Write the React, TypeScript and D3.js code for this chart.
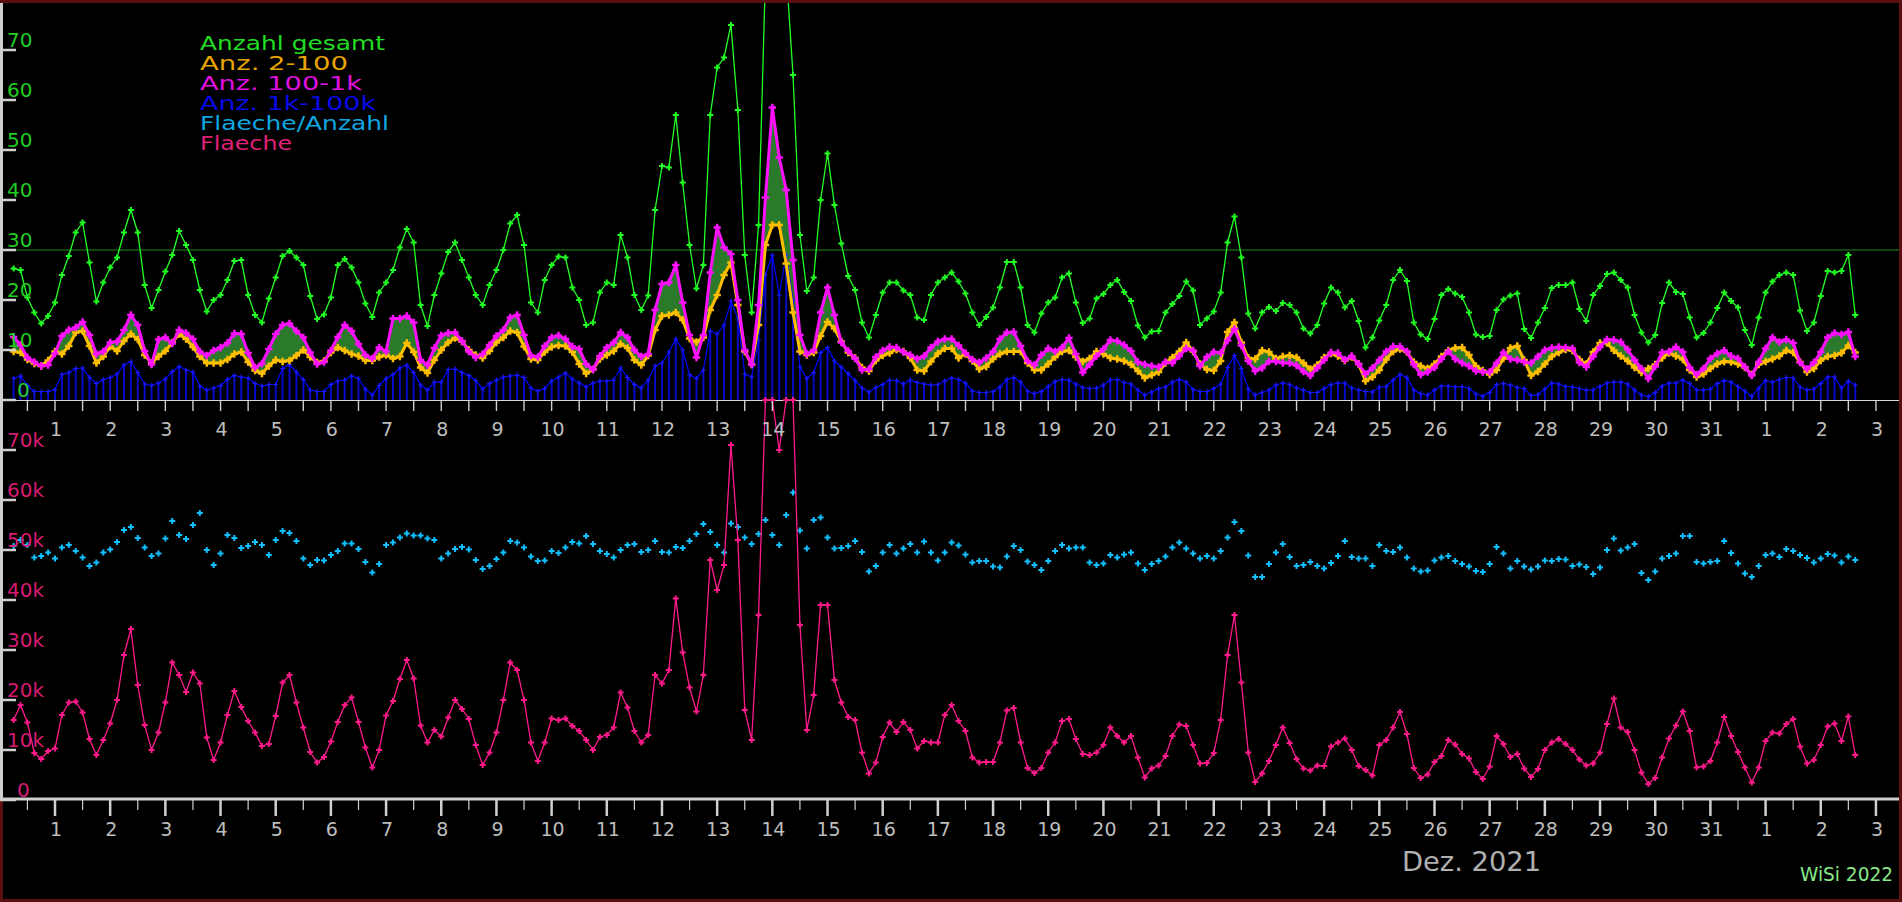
import React from "react";
import * as d3 from "d3";

// ---- data: 3-hourly samples starting 30 Nov 2021 06:00 (UTC) ----
const START = Date.UTC(2021, 10, 30, 6);
const STEP_HOURS = 3;

const anzahlGesamt = [
  26.3, 26, 20.5, 17.5, 15.3, 16.8,
  19.5, 25, 28.8, 33.5, 35.5, 27.5, 19.7, 23.5,
  26.5, 28.5, 33.5, 38, 33.5, 23, 18.4, 22,
  25.7, 29, 33.8, 31, 28, 22, 17.7, 20,
  21, 24, 27.8, 28, 21, 17, 15.5, 20.3,
  24.5, 28.8, 29.8, 28.5, 27, 20.8, 16.2, 17.1,
  20.5, 27, 28.2, 26.5, 23.5, 19.3, 16.6, 21.5,
  23.5, 26, 30.5, 34.2, 31.5, 19, 14.8, 21,
  25.3, 29.6, 31.5, 28, 24.5, 21, 19, 23,
  26, 30, 35.3, 37, 31, 19.5, 17.5, 24,
  27, 28.7, 28.5, 22.5, 20, 15, 15.5, 21.5,
  23.5, 23, 33, 28.5, 21, 18, 20.9, 38,
  46.8, 46.5, 57, 43.5, 31, 22.3, 27, 57,
  66.5, 68.5, 75, 58, 29, 17.5, 35, 85,
  95, 92, 86, 65, 33, 21.8, 24.5, 40,
  49.3, 39, 31.3, 24.8, 22, 15.5, 12.5, 17,
  21.5, 23.5, 23.5, 21.9, 21, 16.5, 16, 21,
  23.5, 24.5, 25.5, 23.7, 21.3, 17.5, 15, 16.6,
  18.5, 22.5, 27.6, 27.6, 22.5, 15, 13.5, 17.3,
  19.5, 20.5, 24.5, 25.3, 19.5, 15.4, 16.3, 20.3,
  21.2, 23, 24, 21.6, 19.8, 14.9, 12.5, 13.7,
  13.8, 17.5, 19.2, 20.8, 23.7, 21.9, 15, 16.3,
  17.7, 21.5, 31.5, 36.7, 28.5, 17.3, 14.3, 17.5,
  18.6, 17.8, 19.4, 19, 17.5, 14.3, 13.3, 15,
  19.3, 22.5, 21.5, 18.5, 19.8, 15.8, 10.5, 12.5,
  15.9, 19, 24, 26, 23.8, 15.5, 13.1, 12.2,
  16.2, 21, 22.2, 21.3, 20.6, 17.5, 13.1, 12.6,
  12.8, 18, 20.1, 20.9, 21.3, 14.2, 12.4, 15.5,
  18.4, 22.4, 23, 23, 23.5, 18.2, 15.8, 21,
  22.8, 25.2, 25.5, 24, 22.5, 17, 13.5, 11.5,
  13, 19.4, 23.5, 21.6, 21.2, 16.5, 12.5, 13.4,
  15.5, 18.4, 21.5, 19.8, 18.5, 14, 11, 16.5,
  21.5, 23.7, 25, 25.5, 25, 17.9, 13.8, 15.5,
  20.8, 25.8, 25.5, 25.8, 29, 17,
];

const anz2bis100 = [
  9.7, 9.5, 8.1, 7.3, 6.8, 7.9,
  9.7, 9.2, 10.8, 13.5, 13.8, 10.8, 7.4, 8.7,
  10.7, 9.8, 11.8, 13.2, 12.1, 9, 7.4, 8.7,
  9.8, 11.5, 13.2, 12.2, 10.6, 8.7, 7.4, 7.4,
  7.4, 8.1, 9.2, 9.6, 7.6, 5.9, 5.3, 6.8,
  8, 7.7, 7.9, 8.9, 10, 8.6, 7.5, 7.8,
  9.5, 10.5, 9.9, 9.2, 8.8, 7.9, 7.9, 8.6,
  9, 8.3, 8.7, 11.4, 9.6, 6.5, 5.4, 8,
  10, 11.5, 12.4, 11.7, 10, 9, 8.4, 9.8,
  11.5, 12.5, 13.8, 13.5, 10.7, 8.2, 8, 9.6,
  10.6, 10.9, 10.8, 9.6, 7.2, 5.3, 6.1, 8.2,
  9, 9.8, 11.2, 10.4, 8, 7, 8.9, 14,
  16.8, 17, 17.5, 16, 12.3, 11.6, 12.5, 18,
  21, 25, 27.5, 19, 9.7, 7.1, 15, 31,
  35, 35, 27.3, 17.5, 9.7, 9, 9.5, 12.8,
  15.6, 14.3, 11.7, 9.5, 8.4, 6.5, 5.8, 7.9,
  8.9, 9.4, 10.1, 9.7, 8.4, 6, 5.8, 7.7,
  9.3, 10.3, 10.3, 8.4, 9.2, 7.8, 6.2, 6.7,
  8.2, 9.2, 9.7, 9.7, 9.7, 7.4, 6, 6,
  7.2, 8.6, 9.7, 9.9, 8.6, 7.7, 8.3, 9.7,
  9.2, 8.4, 8.2, 7.8, 7.1, 5.8, 4.4, 5,
  5.6, 7.4, 8.5, 9.7, 11.5, 9.7, 7.2, 6.1,
  5.9, 7.8, 13.6, 15.5, 11.5, 8.4, 8.2, 9.9,
  9.6, 8.3, 8.7, 8.9, 8.5, 7.4, 6.2, 7,
  8.5, 9.3, 8.8, 7.9, 8.6, 7.2, 3.8, 4.6,
  6, 8.1, 9.7, 10.2, 9.6, 7.6, 6.8, 6.3,
  7.2, 8.7, 9.9, 10.4, 10.5, 9, 6.8, 5.9,
  5.1, 6, 8.3, 10.4, 10.8, 8, 4.9, 5.7,
  7.2, 8.7, 9.5, 10.1, 9.9, 8.1, 7.2, 9.6,
  11.4, 11.4, 9.9, 8.8, 7.8, 6.5, 5.5, 6.3,
  7.1, 8.4, 9.4, 8.8, 8.1, 6, 4.6, 5.2,
  6.3, 7.2, 7.7, 7.6, 7.2, 6.5, 5.1, 7.1,
  7.7, 8.2, 8.8, 9.9, 9.5, 7.6, 5.6, 6.3,
  7.9, 8.7, 8.9, 9.4, 10.9, 9.5,
];

const anz100bis1k = [
  12.6, 11, 8.5, 7.6, 6.8, 7,
  9.3, 12.8, 14, 14.5, 15.6, 13, 9.2, 9.7,
  11.5, 11.7, 14, 17, 15, 9.8, 7.1, 12.1,
  12.5, 11.3, 14, 13.4, 12.2, 9.7, 8.9, 9.9,
  10.5, 11.4, 13.3, 13.2, 9.4, 6.5, 7.3, 10.2,
  13.2, 15, 15.3, 13.8, 12.5, 9.5, 7.2, 7.6,
  9.9, 12.6, 15, 13.8, 11.2, 9, 8.3, 10.5,
  9.7, 16.3, 16.3, 16.8, 15.5, 8, 7, 10.4,
  12.9, 13.4, 13.5, 11.8, 9.7, 8.5, 9.2, 11,
  12.8, 14, 16.5, 17, 13, 8.9, 8.6, 10.8,
  12.5, 12.9, 12.2, 10.7, 10.2, 7.2, 6.1, 8.8,
  10.5, 11.5, 13.5, 12.5, 10, 8.7, 9.2, 18,
  23.2, 23.5, 27, 19.5, 13, 8.5, 13, 25.5,
  34.5, 30.5, 29.2, 20, 10, 7.1, 19, 40.5,
  58.5, 48.5, 42, 28, 13, 9.2, 10, 17.5,
  22.5, 17, 11.5, 9.8, 8.3, 6, 6.2, 8.6,
  9.9, 10.6, 10.5, 9.6, 9, 8.2, 8.8, 10.5,
  11.7, 12.2, 12.2, 10.9, 9.4, 8.1, 7.5, 8.4,
  9.7, 12.2, 13.5, 13.6, 10.8, 7.8, 7, 9,
  10.3, 9.7, 10.5, 12.4, 9.2, 5.5, 7.1, 8.8,
  10.2, 12, 11.8, 11, 9.8, 7.6, 7.1, 6.8,
  6.6, 7.6, 7.4, 8.8, 10.3, 9.9, 6.8, 8.6,
  9.6, 9.4, 11.9, 14.2, 10.9, 7.8, 5.8, 6.4,
  7.7, 7.7, 7.4, 7.4, 6.9, 5.7, 4.9, 6.4,
  8, 9.5, 9.4, 8, 8.8, 7.2, 5.2, 6.4,
  8, 9.7, 10.7, 10.7, 9.7, 7.1, 5.1, 5.6,
  6.5, 8.2, 9.7, 8.2, 7.4, 6.8, 5.8, 5.6,
  5.6, 7.4, 9.5, 8.2, 8, 7.6, 7.4, 8.7,
  10, 10.4, 10.6, 10.5, 10.3, 7.5, 6.6, 8.7,
  10.6, 12.1, 12, 11.6, 10.1, 8, 6.3, 4.3,
  6.7, 9.5, 9.7, 10.6, 9.6, 6.5, 5.1, 6.3,
  8.3, 9.3, 9.9, 8.8, 8.3, 6.6, 4.9, 7.6,
  10.3, 12.5, 11.6, 12.1, 11.4, 7.5, 6.2, 7.5,
  9.6, 12.5, 13.4, 13.1, 13.6, 8.7,
];

const anz1kbis100k = [
  4.3, 4.8, 2.9, 1.7, 1.7, 1.7,
  2.1, 5.1, 5.5, 6.3, 6.4, 4.5, 3.3, 4.1,
  4.5, 5.2, 7, 7.7, 5.5, 3.2, 2.9, 3.4,
  4.2, 5.7, 6.7, 6, 5.6, 2.8, 2, 2.4,
  2.9, 4.1, 4.9, 4.6, 4.4, 3.3, 2.8, 3.1,
  3.1, 6.3, 7.1, 5.6, 4.1, 2, 1.7, 1.7,
  3.1, 3.8, 4, 4.8, 4.3, 2.2, 1, 2.9,
  4.3, 5.1, 6.4, 7, 5.5, 3, 2, 3.6,
  3.6, 6.1, 6.2, 5.5, 4.9, 3.9, 2.2, 3.3,
  4, 4.6, 4.8, 5, 4.5, 2.4, 1.8, 2.3,
  3.8, 4.6, 5.4, 4.2, 3.4, 2.6, 3.4, 3.8,
  3.8, 4, 6.4, 4.5, 3.1, 2.4, 4, 6.8,
  7.4, 9.6, 12.2, 10, 5.1, 4.3, 6, 13.8,
  13.2, 15, 19.8, 16.3, 5.2, 4.6, 12, 25,
  29, 21, 29, 20, 6.6, 4.3, 5.5, 9.5,
  10.5, 7.8, 6.6, 5.3, 3.9, 2.4, 1.6, 2.5,
  3.1, 4, 3.9, 3.2, 4, 3.5, 3.2, 3,
  3.1, 3.8, 4.4, 4.1, 3.4, 1.8, 1.5, 1.5,
  1.7, 2.6, 4.1, 4.5, 3.6, 1.8, 1.3, 1.7,
  2.7, 3.7, 4.1, 4, 3.2, 2.5, 2.3, 2.4,
  3, 4, 4.1, 3.5, 3.2, 2, 1, 1.6,
  2.3, 2.6, 3.6, 4.1, 3.6, 2.1, 1.7, 1.7,
  2.3, 3.2, 6.5, 8.9, 6.3, 2.2, 1, 1.5,
  2, 3, 3.4, 3.1, 2.4, 2, 1.5, 1.5,
  2.3, 3.1, 3.4, 3.4, 2.4, 2, 1.7, 1.6,
  2.6, 2.7, 4, 5.1, 4.5, 2, 1.3, 1,
  2, 2.8, 2.8, 2.6, 2.7, 2.3, 1.2, 0.8,
  1.5, 3.1, 3.3, 3, 2.5, 2.3, 0.9, 1.1,
  2.2, 3.4, 3.2, 2.7, 2.6, 2.3, 2, 2,
  2.7, 3.4, 3.6, 3.6, 3.2, 2, 1, 0.7,
  1.5, 2.8, 3.4, 3.4, 4, 3.3, 2, 2,
  2.2, 3.3, 3.9, 3.6, 2.7, 1.8, 0.7, 2.4,
  3.9, 3.6, 4.1, 4.5, 4.4, 2.6, 2, 2.2,
  3.3, 4.6, 4.6, 2.4, 3.8, 3,
];

// thousands
const flaecheProAnzahl = [
  50.8, 52, 51, 48.5, 48.8, 49.5,
  48.3, 50.5, 51, 49.8, 48.5, 46.8, 47.5, 49.5,
  50.1, 51.6, 54, 54.6, 52.4, 50.5, 48.8, 49.3,
  52.3, 55.8, 53, 52.2, 55, 57.4, 50, 47,
  49.3, 53, 52.4, 50.4, 50.8, 51.6, 51, 49,
  52, 53.8, 53.4, 51.8, 48.3, 47, 48, 47.9,
  49, 49.8, 51.3, 51.3, 50.2, 47.6, 45.5, 47.2,
  51, 51.5, 52.5, 53.3, 52.9, 52.9, 52.3, 52,
  48.3, 49.3, 50.2, 50.6, 50.1, 48, 46.2, 46.8,
  48.2, 49.5, 51.8, 51.5, 50.5, 48.7, 47.8, 47.9,
  49.8, 49.4, 50.5, 51.6, 51.3, 52.8, 51.2, 49.8,
  49.2, 48.5, 50, 51, 51.2, 49.6, 50, 51.8,
  49.6, 49.5, 50.6, 50.4, 51.8, 53.2, 55.2, 53.6,
  51, 49.5, 55.3, 54.6, 52.5, 51.2, 53.2, 56,
  53, 51, 57, 61.5, 53.9, 50.3, 56, 56.5,
  52.5, 50.3, 50.4, 50.8, 51.8, 49.6, 45.7, 46.8,
  49.5, 51, 49.3, 50.3, 51.2, 49.5, 51.7, 49.5,
  47.9, 49.5, 51.5, 50.9, 49.1, 47.5, 47.8, 47.8,
  46.7, 46.5, 48.7, 50.8, 50, 47.7, 47, 46,
  47.8, 49.8, 51, 50.3, 50.5, 50.5, 47.5, 47,
  47.3, 49, 48.5, 49.1, 49.5, 47.3, 46, 47.2,
  47.8, 48.7, 50.5, 51.5, 50.3, 49.3, 48.3, 48.8,
  48.3, 49.8, 52.5, 55.6, 53.8, 48.9, 44.6, 44.6,
  47.2, 49.5, 51.2, 48.6, 46.8, 47, 47.6, 46.8,
  46.3, 47.4, 48.8, 51.8, 48.6, 48.3, 48.3, 46.8,
  51, 49.8, 49.6, 50.5, 48.5, 46.3, 45.7, 45.9,
  47.9, 48.5, 48.8, 47.8, 47.2, 46.7, 45.8, 45.6,
  47.2, 50.6, 49.3, 46.3, 47.8, 46.7, 46.1, 46.7,
  47.9, 47.8, 48.2, 48.1, 46.8, 47.1, 46.6, 45.2,
  46.5, 50, 52.3, 49.9, 50.5, 51.2, 45.4, 44,
  45.7, 48.3, 48.8, 49.3, 52.8, 52.8, 47.6, 47.3,
  47.6, 47.8, 51.8, 49.4, 47.3, 45.3, 44.6, 46.8,
  49, 49.3, 48.6, 50.2, 49.8, 49, 48.4, 47.5,
  48.3, 49.2, 48.9, 47.5, 48.7, 48,
];

// thousands
const flaeche = [
  16, 19, 15.5, 9.4, 8.2, 9.8,
  10.3, 17, 19.5, 19.7, 17.5, 12.2, 9, 12,
  15.3, 20, 29, 34.2, 23, 15, 10, 13.5,
  19.5, 27.5, 25, 21.6, 25.5, 23.3, 12.5, 8,
  11.5, 17, 21.8, 18.6, 15.8, 13.5, 10.8, 11.2,
  16.8, 23.5, 25, 19.5, 14.5, 9.6, 7.5, 8.6,
  11.7, 15.6, 19, 20.5, 15.6, 10.5, 6.5, 10,
  16.9, 19.8, 24.2, 28, 24.3, 14.9, 11.5, 14,
  12.7, 16.5, 20, 18.2, 16.2, 11, 7, 9.5,
  13.5, 20, 27.5, 26, 20, 11.5, 7.8, 11.5,
  16.3, 16, 16.3, 14.8, 13.8, 12, 10, 12.6,
  13, 14.5, 21.5, 18.5, 13.8, 11.5, 13, 25,
  23.3, 26, 40.3, 29.5, 22.5, 17.7, 25, 48,
  42, 47, 71, 52, 18, 12, 37, 85,
  95, 70, 90, 82, 35, 14, 21, 39,
  39, 24, 19.5, 16.6, 16, 9.5, 5.3, 7.5,
  12.6, 15.5, 13.6, 15.6, 14, 10.3, 11.8, 11.5,
  11.5, 17, 19, 15.8, 13.8, 8.5, 7.5, 7.6,
  7.6, 11.5, 17.9, 18.4, 11.5, 6.4, 5.4, 6.4,
  9.5, 11.5, 15.8, 16.2, 12.2, 9.2, 9, 9.5,
  11, 14.5, 12.8, 11.5, 12.8, 8.5, 4.5, 6.3,
  6.9, 8.8, 12.8, 15.1, 14.8, 11, 7.3, 7.4,
  9.4, 16, 29, 37, 23.5, 9.5, 3.6, 5.3,
  7.8, 11, 14.5, 11.4, 8.2, 6.3, 5.9, 6.9,
  6.8, 10.7, 11.5, 12.3, 10, 6.8, 6, 4.9,
  11, 12, 14.5, 17.6, 13.2, 6.4, 4.4, 5.1,
  7.6, 8.8, 12, 11.1, 9.2, 8.3, 5.6, 4.2,
  6.7, 12.8, 11.2, 8.6, 9.2, 6.3, 4.6, 6.2,
  10, 11.5, 12.2, 11.2, 10, 8.1, 6.9, 7.3,
  9.5, 15.2, 20.3, 14.5, 13.6, 10, 5.5, 3.2,
  4.4, 8.5, 12.3, 14.9, 17.7, 13.8, 6.5, 6.7,
  7.8, 11.5, 16.6, 12.8, 9.6, 6.5, 3.5, 6.5,
  11.8, 13.5, 13.3, 15.2, 16.2, 10.7, 7.3, 8,
  11, 14.7, 15.3, 11.8, 16.7, 9,
];

const yTopTicks = [0, 10, 20, 30, 40, 50, 60, 70];
const yTopLabels = ["0", "10", "20", "30", "40", "50", "60", "70"];
const yBotTicks = [0, 10, 20, 30, 40, 50, 60, 70];
const yBotLabels = ["0", "10k", "20k", "30k", "40k", "50k", "60k", "70k"];
const thresholdValue = 30;

const legendLabels = ["Anzahl gesamt", "Anz. 2-100", "Anz. 100-1k", "Anz. 1k-100k", "Flaeche/Anzahl", "Flaeche"];
const legendColors = ["#22dd22", "#e8a400", "#e010e0", "#0a0ae8", "#10a8e0", "#e0207a"];
const legendWidths = [185, 148, 162, 176, 189, 92];

const monthLabel = "Dez. 2021";
const creditLabel = "WiSi 2022";

// ---- layout ----
const W = 1902;
const H = 902;
const PX_PER_DAY = 55.18;
const FONT = "'DejaVu Sans', 'Liberation Sans', sans-serif";

const x = d3
  .scaleUtc()
  .domain([new Date(Date.UTC(2021, 10, 30)), new Date(Date.UTC(2022, 0, 4))])
  .range([-0.18, -0.18 + 35 * PX_PER_DAY]);
const yTop = d3.scaleLinear().domain([0, 80]).range([400, 0]);
const yBot = d3.scaleLinear().domain([0, 80]).range([800, 400]).clamp(true);

const times = anzahlGesamt.map((_, i) => new Date(START + i * STEP_HOURS * 3600e3));

const dayTicks = d3.utcDay.range(new Date(Date.UTC(2021, 11, 1)), new Date(Date.UTC(2022, 0, 4)));
const halfDayTicks = d3.utcHour
  .every(12)!
  .range(new Date(Date.UTC(2021, 10, 30, 12)), new Date(Date.UTC(2022, 0, 3, 1)));
const minorTicks = halfDayTicks.filter((d) => d.getUTCHours() === 12);
const dayFmt = d3.utcFormat("%-d");

function plusPath(vals: number[], y: (v: number) => number, r: number) {
  return vals
    .map((v, i) => {
      const px = x(times[i]);
      const py = y(v);
      return `M${px - r},${py}H${px + r}M${px},${py - r}V${py + r}`;
    })
    .join("");
}

const crossSym = d3.symbol(d3.symbolCross, 30)()!;
const crossSmall = d3.symbol(d3.symbolCross, 20)()!;

export default function App() {
  const lineTop = d3
    .line<number>()
    .x((_, i) => x(times[i]))
    .y((d) => yTop(d));
  const greenLine = lineTop(anzahlGesamt)!;
  const blueLine = lineTop(anz1kbis100k)!;
  const orangeLine = lineTop(anz2bis100)!;
  const magentaLine = lineTop(anz100bis1k)!;
  const pinkLine = d3
    .line<number>()
    .x((_, i) => x(times[i]))
    .y((d) => yBot(d))(flaeche)!;
  const band = d3
    .area<number>()
    .x((_, i) => x(times[i]))
    .y0((_, i) => yTop(anz2bis100[i]))
    .y1((d) => yTop(d))(anz100bis1k)!;

  return (
    <svg
      width={W}
      height={H}
      style={{ position: "absolute", left: 0, top: 0, display: "block" }}
      fontFamily={FONT}
    >
      <defs>
        <clipPath id="topClip">
          <rect x={0} y={0} width={1899} height={401} />
        </clipPath>
      </defs>
      <rect x={0} y={0} width={W} height={H} fill="#000" />

      {/* threshold line */}
      <line x1={0} x2={1899} y1={yTop(thresholdValue)} y2={yTop(thresholdValue)} stroke="#1d8f1d" strokeWidth={1} />

      {/* top panel axis line */}
      <line x1={0} x2={1899} y1={400.5} y2={400.5} stroke="#d8d8d8" strokeWidth={1} />

      <g clipPath="url(#topClip)">
        {/* band between 2-100 and 100-1k */}
        <path d={band} fill="#2b7a2b" />
        {/* blue stems */}
        {anz1kbis100k.map((v, i) => (
          <line
            key={"bs" + i}
            x1={x(times[i])}
            x2={x(times[i])}
            y1={yTop(v)}
            y2={400}
            stroke="#0808c8"
            strokeWidth={2}
          />
        ))}
        <path d={blueLine} fill="none" stroke="#0000ff" strokeWidth={1.2} />
        <path d={plusPath(anz1kbis100k, yTop, 2.5)} stroke="#1a1aff" strokeWidth={1.2} fill="none" />
        {/* orange and magenta bands of markers */}
        <path d={orangeLine} fill="none" stroke="#ffbf00" strokeWidth={3} strokeLinejoin="round" />
        {anz2bis100.map((v, i) => (
          <path key={"o" + i} d={crossSym} transform={`translate(${x(times[i])},${yTop(v)})`} fill="#ffbf00" />
        ))}
        <path d={magentaLine} fill="none" stroke="#ff10ff" strokeWidth={3} strokeLinejoin="round" />
        {anz100bis1k.map((v, i) => (
          <path key={"m" + i} d={crossSym} transform={`translate(${x(times[i])},${yTop(v)})`} fill="#ff10ff" />
        ))}
        {/* total */}
        <path d={greenLine} fill="none" stroke="#22ff22" strokeWidth={1.3} />
        <path d={plusPath(anzahlGesamt, yTop, 3)} stroke="#22ff22" strokeWidth={2} fill="none" />
      </g>

      {/* bottom panel */}
      {flaecheProAnzahl.map((v, i) => (
        <path key={"c" + i} d={crossSmall} transform={`translate(${x(times[i])},${yBot(v)})`} fill="#10c0ff" />
      ))}
      <path d={pinkLine} fill="none" stroke="#ff1a8c" strokeWidth={1.3} />
      <path d={plusPath(flaeche, yBot, 3)} stroke="#ff1a8c" strokeWidth={2} fill="none" />

      {/* top x ticks */}
      {halfDayTicks.map((d, i) => (
        <line key={"tt" + i} x1={x(d)} x2={x(d)} y1={401} y2={411} stroke="#d0d0d0" strokeWidth={1.4} />
      ))}
      {dayTicks.map((d, i) => (
        <text key={"tl" + i} x={x(d) + 1} y={436} fontSize={19} fill="#bdbdbd" textAnchor="middle">
          {dayFmt(d)}
        </text>
      ))}

      {/* bottom x axis */}
      <line x1={0} x2={1900} y1={799} y2={799} stroke="#d0d0d0" strokeWidth={3} />
      {dayTicks.map((d, i) => (
        <line key={"bm" + i} x1={x(d)} x2={x(d)} y1={800} y2={816} stroke="#d0d0d0" strokeWidth={2.5} />
      ))}
      {minorTicks.map((d, i) => (
        <line key={"bn" + i} x1={x(d)} x2={x(d)} y1={800} y2={810} stroke="#d0d0d0" strokeWidth={1.2} />
      ))}
      {dayTicks.map((d, i) => (
        <text key={"bl" + i} x={x(d) + 1} y={836} fontSize={19} fill="#bdbdbd" textAnchor="middle">
          {dayFmt(d)}
        </text>
      ))}

      {/* frame */}
      <rect x={1.5} y={1.5} width={W - 3} height={H - 3} fill="none" stroke="#5a1010" strokeWidth={3} />

      {/* left y axis bar and ticks */}
      <rect x={0} y={3} width={3} height={797} fill="#cfcfcf" />
      {yTopTicks.map((t, i) => (
        <g key={"yt" + i}>
          <line x1={0} x2={16} y1={yTop(t)} y2={yTop(t)} stroke="#cfcfcf" strokeWidth={2.5} />
          <text x={yTopLabels[i].length === 1 ? 17 : 7} y={yTop(t) - 3} fontSize={20} fill="#22cc22">
            {yTopLabels[i]}
          </text>
        </g>
      ))}
      {yBotTicks.map((t, i) => (
        <g key={"yb" + i}>
          <line x1={0} x2={16} y1={yBot(t)} y2={yBot(t)} stroke="#cfcfcf" strokeWidth={2.5} />
          <text x={yBotLabels[i].length === 1 ? 17 : 7} y={yBot(t) - 3} fontSize={20} fill="#d81b72">
            {yBotLabels[i]}
          </text>
        </g>
      ))}

      {/* legend */}
      {legendLabels.map((l, i) => (
        <text
          key={"lg" + i}
          x={200}
          y={50 + i * 20}
          fontSize={19}
          fill={legendColors[i]}
          textLength={legendWidths[i]}
          lengthAdjust="spacingAndGlyphs"
        >
          {l}
        </text>
      ))}

      <text x={1402} y={871} fontSize={27} fill="#b0b0b0" textLength={139} lengthAdjust="spacingAndGlyphs">
        {monthLabel}
      </text>
      <text x={1800} y={881} fontSize={19} fill="#88e888" textLength={93} lengthAdjust="spacingAndGlyphs">
        {creditLabel}
      </text>
    </svg>
  );
}
